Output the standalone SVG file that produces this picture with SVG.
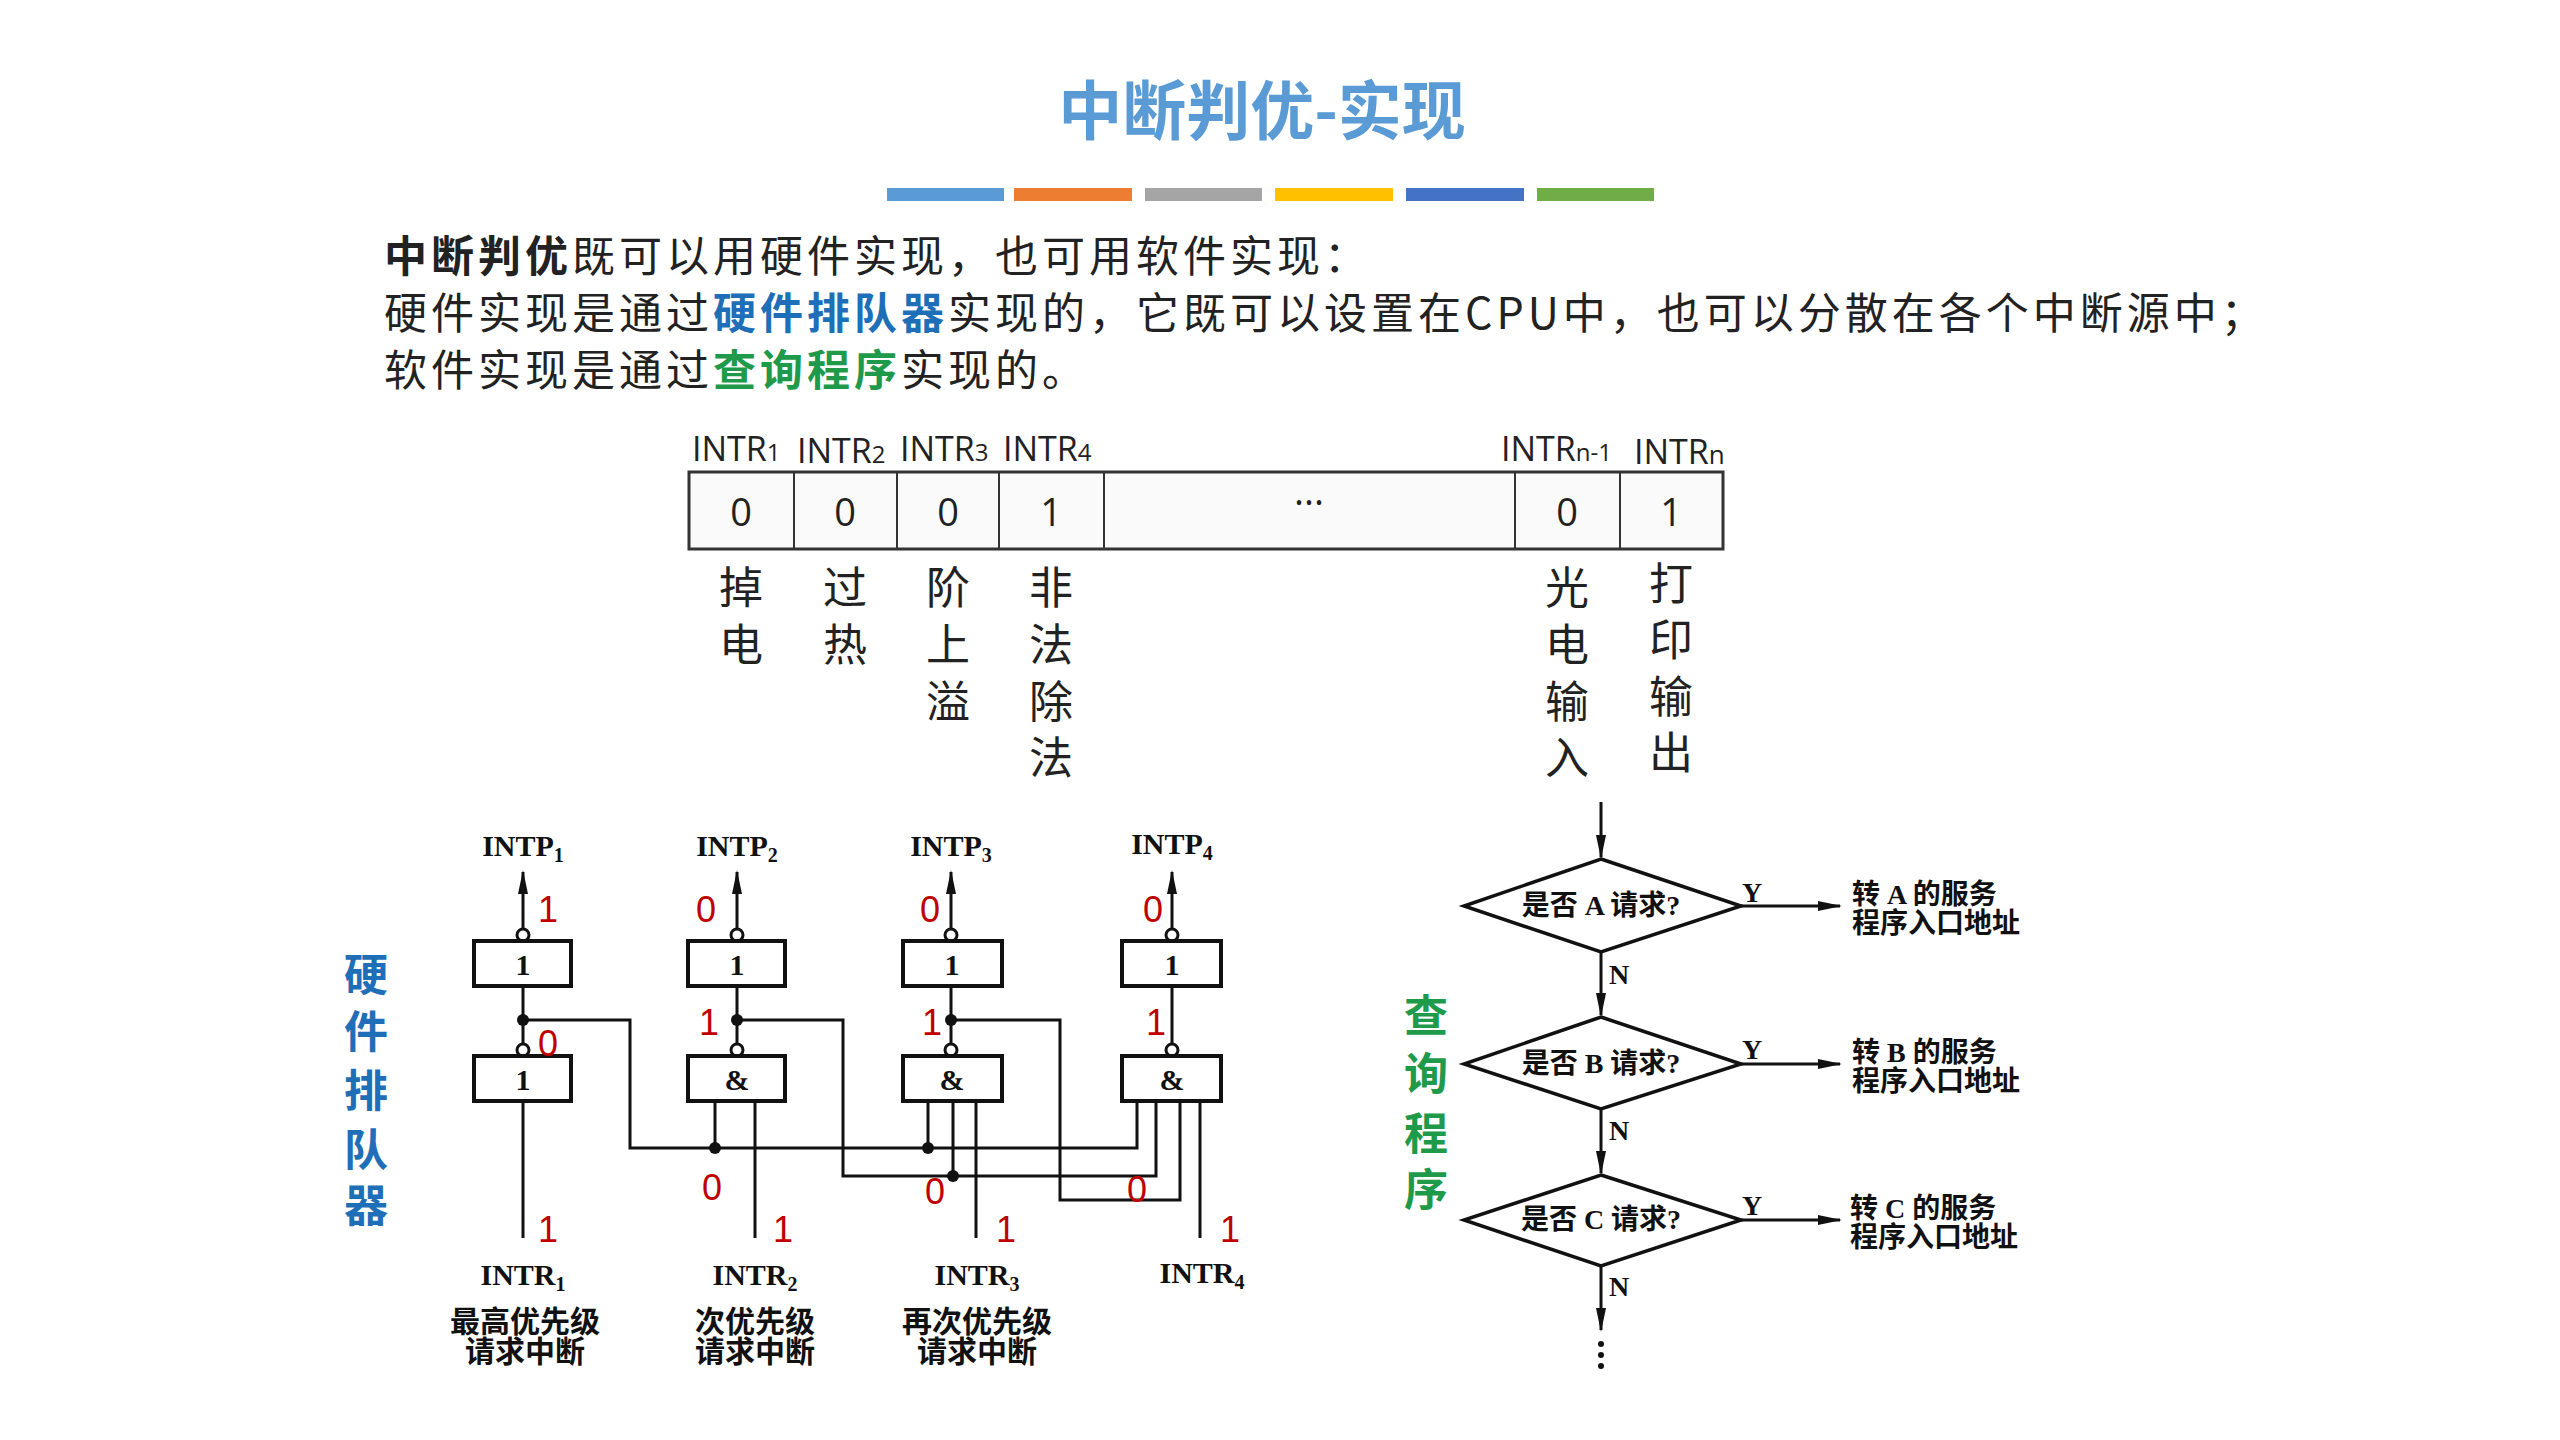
<svg xmlns="http://www.w3.org/2000/svg" width="2560" height="1440" viewBox="0 0 2560 1440">
<style>
.body{font-family:"Noto Sans CJK SC",sans-serif;font-size:43px;fill:#222;letter-spacing:4px}
.reg{font-family:"Open Sans","Liberation Sans",sans-serif;font-size:38px;fill:#222;text-anchor:middle}
.lab{font-family:"Open Sans","Liberation Sans",sans-serif;font-size:34px;fill:#222}
.cv{font-family:"Noto Sans CJK SC",sans-serif;font-size:44px;fill:#222;text-anchor:middle}
.ser{font-family:"Liberation Serif","Noto Sans CJK SC",serif;font-weight:bold;fill:#111}
.red{font-family:"Liberation Sans",sans-serif;font-size:36px;fill:#c00000;text-anchor:middle}
.w{stroke:#111;stroke-width:3;fill:none}
.box{stroke:#111;stroke-width:4;fill:#fff}
.dia{stroke:#111;stroke-width:3.5;fill:#fff}
.blue{fill:#1f6fb8}
.green{fill:#1e9a4a}
</style>
<defs>
<marker id="ar2" markerWidth="24" markerHeight="14" refX="22" refY="7" orient="auto" markerUnits="userSpaceOnUse"><path d="M0,2 L24,7 L0,12 z" fill="#111"/></marker>
</defs>
<rect width="2560" height="1440" fill="#fff"/>

<g id="title">
<text x="1262" y="134" text-anchor="middle" font-family="Noto Sans CJK SC,sans-serif" font-weight="bold" font-size="64" fill="#5b9bd5">中断判优-实现</text>
<rect x="887" y="188" width="117" height="13" fill="#5b9bd5"/>
<rect x="1014" y="188" width="118" height="13" fill="#ed7d31"/>
<rect x="1145" y="188" width="117" height="13" fill="#a5a5a5"/>
<rect x="1275" y="188" width="118" height="13" fill="#ffc000"/>
<rect x="1406" y="188" width="118" height="13" fill="#4472c4"/>
<rect x="1537" y="188" width="117" height="13" fill="#70ad47"/>
</g>

<g id="intro">
<text class="body" x="384" y="272"><tspan font-weight="bold">中断判优</tspan>既可以用硬件实现，也可用软件实现：</text>
<text class="body" x="384" y="329">硬件实现是通过<tspan font-weight="bold" fill="#1f6fb8">硬件排队器</tspan>实现的，它既可以设置在CPU中，也可以分散在各个中断源中；</text>
<text class="body" x="384" y="386">软件实现是通过<tspan font-weight="bold" fill="#1e9a4a">查询程序</tspan>实现的。</text>
</g>

<g id="register">
<rect x="689" y="472" width="1034" height="77" fill="#fafafa" stroke="#333" stroke-width="3"/>
<path d="M794 472V549M897 472V549M999 472V549M1104 472V549M1515 472V549M1620 472V549" stroke="#333" stroke-width="2"/>
<text class="reg" x="741" y="526">0</text>
<text class="reg" x="845" y="526">0</text>
<text class="reg" x="948" y="526">0</text>
<text class="reg" x="1051" y="526">1</text>
<text class="reg" x="1309" y="516">···</text>
<text class="reg" x="1567" y="526">0</text>
<text class="reg" x="1671" y="526">1</text>
<text class="lab" x="692" y="461">INTR<tspan font-size="24">1</tspan></text>
<text class="lab" x="797" y="463">INTR<tspan font-size="24">2</tspan></text>
<text class="lab" x="900" y="461">INTR<tspan font-size="24">3</tspan></text>
<text class="lab" x="1003" y="461">INTR<tspan font-size="24">4</tspan></text>
<text class="lab" x="1501" y="461">INTR<tspan font-size="24">n-1</tspan></text>
<text class="lab" x="1634" y="464">INTR<tspan font-size="26">n</tspan></text>
<text class="cv" x="741" y="604">掉</text><text class="cv" x="741" y="661">电</text>
<text class="cv" x="845" y="604">过</text><text class="cv" x="845" y="661">热</text>
<text class="cv" x="948" y="604">阶</text><text class="cv" x="948" y="661">上</text><text class="cv" x="948" y="718">溢</text>
<text class="cv" x="1051" y="604">非</text><text class="cv" x="1051" y="661">法</text><text class="cv" x="1051" y="718">除</text><text class="cv" x="1051" y="774">法</text>
<text class="cv" x="1567" y="604">光</text><text class="cv" x="1567" y="661">电</text><text class="cv" x="1567" y="718">输</text><text class="cv" x="1567" y="774">入</text>
<text class="cv" x="1671" y="600">打</text><text class="cv" x="1671" y="656">印</text><text class="cv" x="1671" y="713">输</text><text class="cv" x="1671" y="769">出</text>
</g>

<g id="hw-label" font-family="Noto Sans CJK SC,sans-serif" font-weight="bold" font-size="44" text-anchor="middle" class="blue">
<text x="366" y="991">硬</text><text x="366" y="1048">件</text><text x="366" y="1107">排</text><text x="366" y="1166">队</text><text x="366" y="1222">器</text>
</g>

<g id="connectors-hw">
<path class="w" d="M523 929V872" marker-end="url(#ar2)"/>
<path class="w" d="M737 929V872" marker-end="url(#ar2)"/>
<path class="w" d="M951 929V872" marker-end="url(#ar2)"/>
<path class="w" d="M1172 929V872" marker-end="url(#ar2)"/>
<path class="w" d="M523 986V1044M737 986V1044M951 986V1044M1172 986V1044"/>
<path class="w" d="M523 1020H630V1148H1137V1101"/>
<path class="w" d="M737 1020H843V1176H1156V1101"/>
<path class="w" d="M951 1020H1060V1200H1180V1101"/>
<path class="w" d="M715 1101V1148M928 1101V1148M953 1101V1176"/>
<path class="w" d="M523 1101V1238M755 1101V1238M976 1101V1238M1200 1101V1238"/>
<g fill="#111">
<circle cx="523" cy="1020" r="6"/><circle cx="737" cy="1020" r="6"/><circle cx="951" cy="1020" r="6"/>
<circle cx="715" cy="1148" r="6"/><circle cx="928" cy="1148" r="6"/><circle cx="953" cy="1176" r="6"/>
</g>
<g fill="#fff" stroke="#111" stroke-width="3">
<circle cx="523" cy="935" r="6"/><circle cx="737" cy="935" r="6"/><circle cx="951" cy="935" r="6"/><circle cx="1172" cy="935" r="6"/>
<circle cx="523" cy="1050" r="6"/><circle cx="737" cy="1050" r="6"/><circle cx="951" cy="1050" r="6"/><circle cx="1172" cy="1050" r="6"/>
</g>
</g>

<g id="gate1"><rect class="box" x="474" y="941" width="97" height="45"/><text class="ser" x="523" y="975" font-size="30" text-anchor="middle">1</text></g>
<g id="gate2"><rect class="box" x="688" y="941" width="97" height="45"/><text class="ser" x="737" y="975" font-size="30" text-anchor="middle">1</text></g>
<g id="gate3"><rect class="box" x="903" y="941" width="99" height="45"/><text class="ser" x="952" y="975" font-size="30" text-anchor="middle">1</text></g>
<g id="gate4"><rect class="box" x="1122" y="941" width="99" height="45"/><text class="ser" x="1172" y="975" font-size="30" text-anchor="middle">1</text></g>
<g id="gate5"><rect class="box" x="474" y="1056" width="97" height="45"/><text class="ser" x="523" y="1090" font-size="30" text-anchor="middle">1</text></g>
<g id="gate6"><rect class="box" x="688" y="1056" width="97" height="45"/><text class="ser" x="737" y="1090" font-size="30" text-anchor="middle">&amp;</text></g>
<g id="gate7"><rect class="box" x="903" y="1056" width="99" height="45"/><text class="ser" x="952" y="1090" font-size="30" text-anchor="middle">&amp;</text></g>
<g id="gate8"><rect class="box" x="1122" y="1056" width="99" height="45"/><text class="ser" x="1172" y="1090" font-size="30" text-anchor="middle">&amp;</text></g>

<g id="hw-labels" class="ser" font-size="30" text-anchor="middle">
<text x="523" y="856">INTP<tspan font-size="20" dy="6">1</tspan></text>
<text x="737" y="856">INTP<tspan font-size="20" dy="6">2</tspan></text>
<text x="951" y="856">INTP<tspan font-size="20" dy="6">3</tspan></text>
<text x="1172" y="854">INTP<tspan font-size="20" dy="6">4</tspan></text>
<text x="523" y="1285">INTR<tspan font-size="20" dy="6">1</tspan></text>
<text x="755" y="1285">INTR<tspan font-size="20" dy="6">2</tspan></text>
<text x="977" y="1285">INTR<tspan font-size="20" dy="6">3</tspan></text>
<text x="1202" y="1283">INTR<tspan font-size="20" dy="6">4</tspan></text>
<text x="525" y="1332" font-size="30">最高优先级</text><text x="525" y="1362" font-size="30">请求中断</text>
<text x="755" y="1332" font-size="30">次优先级</text><text x="755" y="1362" font-size="30">请求中断</text>
<text x="977" y="1332" font-size="30">再次优先级</text><text x="977" y="1362" font-size="30">请求中断</text>
</g>

<g id="red-values" class="red">
<text x="548" y="922">1</text><text x="706" y="922">0</text><text x="930" y="922">0</text><text x="1153" y="922">0</text>
<text x="548" y="1056">0</text><text x="709" y="1035">1</text><text x="932" y="1035">1</text><text x="1156" y="1035">1</text>
<text x="712" y="1200">0</text><text x="935" y="1204">0</text><text x="1137" y="1202">0</text>
<text x="548" y="1242">1</text><text x="783" y="1242">1</text><text x="1006" y="1242">1</text><text x="1230" y="1242">1</text>
</g>

<g id="sw-label" font-family="Noto Sans CJK SC,sans-serif" font-weight="bold" font-size="44" text-anchor="middle" class="green">
<text x="1426" y="1032">查</text><text x="1426" y="1090">询</text><text x="1426" y="1150">程</text><text x="1426" y="1206">序</text>
</g>

<g id="connectors-sw">
<path class="w" d="M1601 802V857" marker-end="url(#ar2)"/>
<path class="w" d="M1601 952V1015" marker-end="url(#ar2)"/>
<path class="w" d="M1601 1109V1173" marker-end="url(#ar2)"/>
<path class="w" d="M1601 1266V1330" marker-end="url(#ar2)"/>
<path class="w" d="M1741 906H1840" marker-end="url(#ar2)"/>
<path class="w" d="M1741 1064H1840" marker-end="url(#ar2)"/>
<path class="w" d="M1741 1220H1840" marker-end="url(#ar2)"/>
<g fill="#111"><circle cx="1601" cy="1344" r="3"/><circle cx="1601" cy="1355" r="3"/><circle cx="1601" cy="1366" r="3"/></g>
<g class="ser" font-size="28">
<text x="1742" y="902">Y</text><text x="1742" y="1059">Y</text><text x="1742" y="1215">Y</text>
<text x="1609" y="984">N</text><text x="1609" y="1140">N</text><text x="1609" y="1296">N</text>
</g>
</g>

<g id="decA"><path class="dia" d="M1601 859L1741 906L1601 952L1464 906Z"/><text class="ser" x="1601" y="915" font-size="28" text-anchor="middle">是否 A 请求?</text></g>
<g id="decB"><path class="dia" d="M1601 1017L1741 1064L1601 1109L1464 1064Z"/><text class="ser" x="1601" y="1073" font-size="28" text-anchor="middle">是否 B 请求?</text></g>
<g id="decC"><path class="dia" d="M1601 1175L1741 1220L1601 1266L1464 1220Z"/><text class="ser" x="1601" y="1229" font-size="28" text-anchor="middle">是否 C 请求?</text></g>
<g id="outA" class="ser" font-size="28"><text x="1852" y="904">转  A 的服务</text><text x="1852" y="933">程序入口地址</text></g>
<g id="outB" class="ser" font-size="28"><text x="1852" y="1062">转  B 的服务</text><text x="1852" y="1091">程序入口地址</text></g>
<g id="outC" class="ser" font-size="28"><text x="1850" y="1218">转  C 的服务</text><text x="1850" y="1247">程序入口地址</text></g>
</svg>
